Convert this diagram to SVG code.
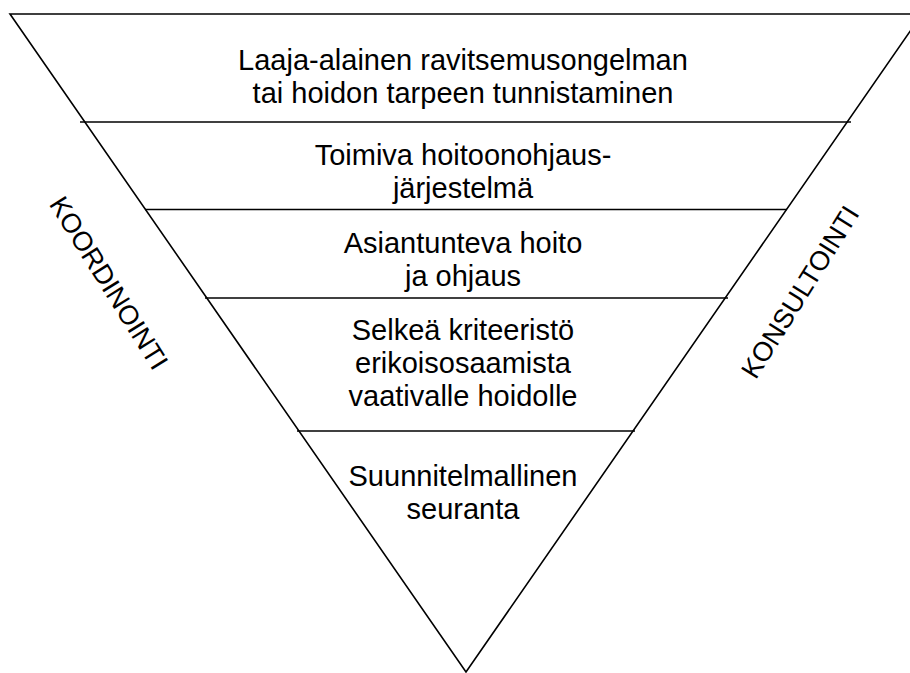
<svg xmlns="http://www.w3.org/2000/svg" width="910" height="673" viewBox="0 0 910 673">
<style>
.ln{stroke:#000;stroke-width:1.6;fill:none}
.t{font-family:"Liberation Sans",Arial,sans-serif;font-size:29px;fill:#000;text-anchor:middle}
.s{font-family:"Liberation Sans",Arial,sans-serif;font-size:27px;fill:#000;text-anchor:middle}
</style>
<rect width="910" height="673" fill="#fff"/>
<g id="connectors">
<polyline class="ln" points="922,14 10,14 466,672 922,14"/>
<line class="ln" x1="80" y1="122" x2="851" y2="122"/>
<line class="ln" x1="145" y1="209.5" x2="787" y2="209.5"/>
<line class="ln" x1="205" y1="298" x2="728" y2="298"/>
<line class="ln" x1="297" y1="431" x2="635" y2="431"/>
</g>
<g id="level1"><text class="t" x="463" y="70">Laaja-alainen ravitsemusongelman</text><text class="t" x="463" y="103">tai hoidon tarpeen tunnistaminen</text></g>
<g id="level2"><text class="t" x="463" y="165">Toimiva hoitoonohjaus-</text><text class="t" x="463" y="198">järjestelmä</text></g>
<g id="level3"><text class="t" x="463" y="253">Asiantunteva hoito</text><text class="t" x="463" y="286">ja ohjaus</text></g>
<g id="level4"><text class="t" x="463" y="340">Selkeä kriteeristö</text><text class="t" x="463" y="373">erikoisosaamista</text><text class="t" x="463" y="406">vaativalle hoidolle</text></g>
<g id="level5"><text class="t" x="463" y="486">Suunnitelmallinen</text><text class="t" x="463" y="519">seuranta</text></g>
<g id="koordinointi"><text class="s" transform="translate(101,288) rotate(58)">KOORDINOINTI</text></g>
<g id="konsultointi"><text class="s" transform="translate(808,297) rotate(-58)">KONSULTOINTI</text></g>
</svg>
